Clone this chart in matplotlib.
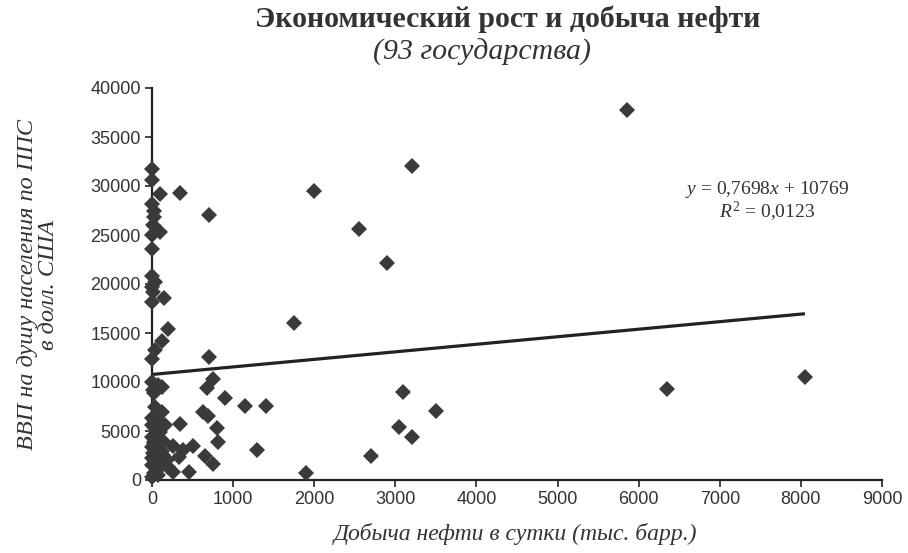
import matplotlib
matplotlib.use("Agg")
import matplotlib.pyplot as plt
import numpy as np

plt.rcParams["mathtext.fontset"] = "custom"
plt.rcParams["mathtext.rm"] = "Liberation Serif"
plt.rcParams["mathtext.it"] = "Liberation Serif:italic"

# Oil production (thousand barrels/day) and GDP per capita PPP (USD)
oil_production = [
    5850, 3200, 2000, 2550, 2900, 1750, 6350, 8050, 3100, 3050,
    3200, 3500, 2700, 1900, 1300, 1150, 1400, 900, 750, 680,
    700, 700, 350, 630, 690, 800, 810, 650, 750, 510,
    380, 260, 330, 260, 450, 340, 200,
    0, 0, 100, 0, 20, 30, 10, 100, 0, 0,
    0, 40, 0, 10, 0, 150, 120, 40, 0, 0,
    80, 120, 20, 40, 120, 0, 160, 100, 0, 30,
    60, 10, 100, 130, 50, 0, 90, 20, 150, 0,
    40, 70, 10, 30, 120, 60, 0, 180, 80, 200,
    40, 140, 0, 70, 0, 20,
]
gdp_per_capita = [
    37800, 32000, 29500, 25600, 22100, 16000, 9300, 10500, 9000, 5400,
    4400, 7000, 2400, 700, 3100, 7600, 7600, 8400, 10300, 9400,
    12600, 27000, 29300, 6900, 6500, 5300, 3900, 2500, 1600, 3500,
    3100, 3500, 2300, 800, 800, 5700, 15400,
    31700, 30600, 29200, 28200, 27500, 26800, 26000, 25300, 25000, 23600,
    20800, 20200, 19700, 19200, 18200, 18600, 14200, 13300, 12300, 10000,
    9700, 9500, 8900, 7400, 6900, 6300, 5600, 4900, 4400, 3900,
    3300, 2800, 2300, 2600, 1800, 1500, 1200, 700, 1700, 3400,
    5300, 6000, 9200, 2100, 3000, 1000, 300, 2000, 4300, 1300,
    2600, 4000, 5600, 500, 2200, 3700,
]

# Linear trend reported on the chart
trend_slope = 0.7698
trend_intercept = 10769
trend_r2 = "0,0123"

x_ticks = [0, 1000, 2000, 3000, 4000, 5000, 6000, 7000, 8000, 9000]
y_ticks = [0, 5000, 10000, 15000, 20000, 25000, 30000, 35000, 40000]

title = "Экономический рост и добыча нефти"
subtitle = "(93 государства)"
x_label = "Добыча нефти в сутки (тыс. барр.)"
y_label = "ВВП на душу населения по ППС\nв долл. США"

fig = plt.figure(figsize=(9.08, 5.53), dpi=100)
ax = fig.add_axes([152/908, 1 - 480/553, (882-152)/908, (480-88)/553])

ax.plot(oil_production, gdp_per_capita, linestyle="none", marker="D",
        markersize=8.3, color="#3a3a3a", markeredgewidth=0, zorder=3)

xs = np.array([0, max(oil_production)])
ax.plot(xs, trend_slope * xs + trend_intercept, color="#222222", lw=2.3, zorder=2,
        solid_capstyle="butt")

ax.set_xlim(0, 9000)
ax.set_ylim(0, 40000)
ax.set_xticks(x_ticks)
ax.set_yticks(y_ticks)
ax.set_xticklabels([str(v) for v in x_ticks], fontfamily="Liberation Sans", fontsize=13)
ax.set_yticklabels([str(v) for v in y_ticks], fontfamily="Liberation Sans", fontsize=13)
for s in ["top", "right"]:
    ax.spines[s].set_visible(False)
for s in ["left", "bottom"]:
    ax.spines[s].set_linewidth(1.6)
    ax.spines[s].set_color("#222222")
ax.tick_params(axis="both", direction="out", length=5, width=1.2, colors="#222222",
               labelcolor="#333333", pad=3)
for line in ax.lines:
    line.set_clip_on(False)

fig.text(508/908, 1 - 19/553, title, ha="center", va="center",
         fontfamily="Liberation Serif", fontweight="bold", fontsize=21.5, color="#333333")
fig.text(482/908, 1 - 52/553, subtitle, ha="center", va="center",
         fontfamily="Liberation Serif", fontstyle="italic", fontsize=21.5, color="#333333")
fig.text(516/908, 1 - 534/553, x_label, ha="center", va="center",
         fontfamily="Liberation Serif", fontstyle="italic", fontsize=17, color="#333333")
fig.text(38/908, 1 - 285/553, y_label, ha="center", va="center", rotation=90,
         fontfamily="Liberation Serif", fontstyle="italic", fontsize=17.5, color="#333333",
         linespacing=1.0, multialignment="center")

eq_text = "$y$ = " + f"{trend_slope}".replace(".", ",") + "$x$ + " + f"{trend_intercept}"
fig.text(767/908, 1 - 189/553, eq_text, ha="center", va="center",
         fontfamily="Liberation Serif", fontsize=14, color="#333333")
fig.text(767/908, 1 - 212/553, "$R^2$ = " + trend_r2, ha="center", va="center",
         fontfamily="Liberation Serif", fontsize=14, color="#333333")

fig.savefig("out.png", dpi=100, facecolor="white")
